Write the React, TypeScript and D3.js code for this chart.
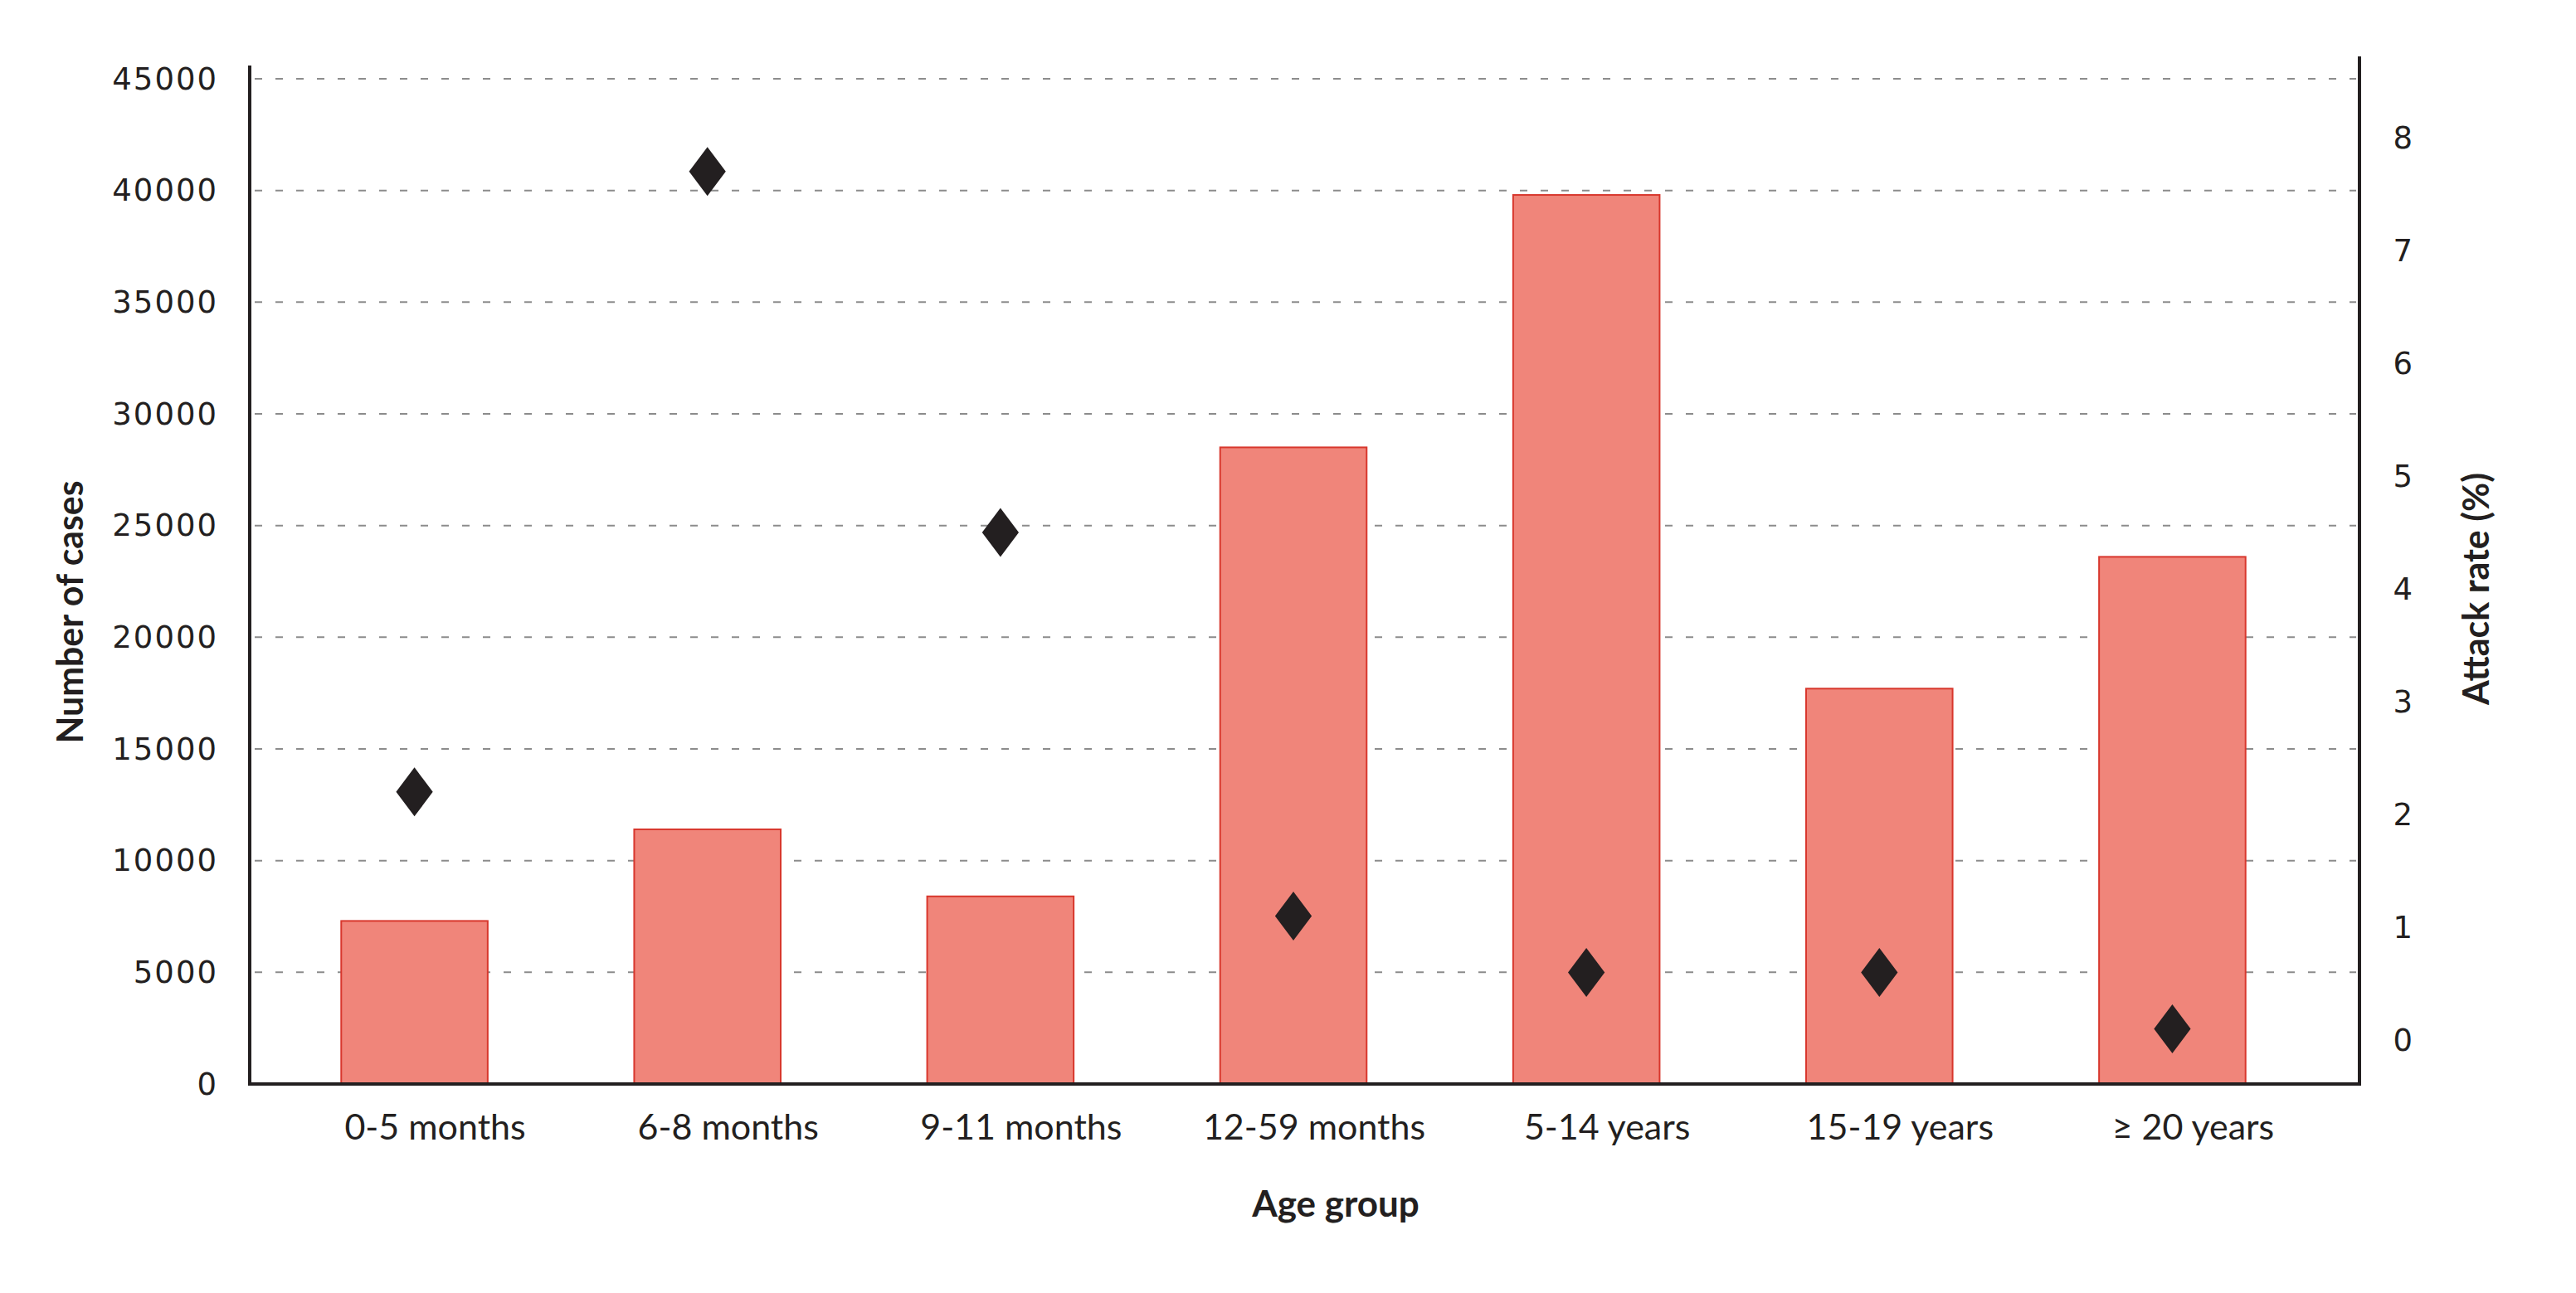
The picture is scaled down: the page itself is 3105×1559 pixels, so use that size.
import { useEffect, useRef } from 'react';
import * as d3 from 'd3';

const AGE_GROUPS = ['0-5 months', '6-8 months', '9-11 months', '12-59 months', '5-14 years', '15-19 years', '≥ 20 years'];
const CASES = [7300, 11400, 8400, 28500, 39800, 17700, 23600];
const ATTACK_RATE = [2.2, 7.7, 4.5, 1.1, 0.6, 0.6, 0.1];
const CASE_TICKS = [0, 5000, 10000, 15000, 20000, 25000, 30000, 35000, 40000, 45000];
const RATE_TICKS = [0, 1, 2, 3, 4, 5, 6, 7, 8];

const INK = '#231f20';

export default function App() {
  const svgRef = useRef<SVGSVGElement>(null);

  useEffect(() => {
    if (!svgRef.current) return;

    const width = 3105;
    const height = 1559;
    const left = 301;
    const right = 2844;
    const base = 1307;

    const svg = d3.select(svgRef.current);
    svg.selectAll('*').remove();
    svg.attr('width', width).attr('height', height).attr('viewBox', `0 0 ${width} ${height}`);

    svg.append('rect').attr('width', width).attr('height', height).attr('fill', '#fff');

    const x = d3.scaleBand<string>().domain(AGE_GROUPS).range([323, 2795]).paddingInner(0.5).paddingOuter(0.25);
    const y = d3.scaleLinear().domain([0, 45000]).range([base, 95]);
    const yRate = d3.scaleLinear().domain([0, 8]).range([1254, 166]);

    // gridlines
    CASE_TICKS.filter((t) => t > 0).forEach((t) => {
      svg.append('line')
        .attr('x1', left + 6).attr('x2', right - 4)
        .attr('y1', y(t)).attr('y2', y(t))
        .attr('stroke', '#8c8c8c')
        .attr('stroke-width', 2)
        .attr('stroke-dasharray', '9,16');
    });

    // bars
    AGE_GROUPS.forEach((g, i) => {
      svg.append('rect')
        .attr('x', x(g)!)
        .attr('y', y(CASES[i]))
        .attr('width', x.bandwidth())
        .attr('height', base - y(CASES[i]))
        .attr('fill', '#f0857a')
        .attr('stroke', '#d8372d')
        .attr('stroke-width', 2);
    });

    // attack rate diamonds
    const diamond = d3.symbol().type(d3.symbolDiamond2).size(2219);
    AGE_GROUPS.forEach((g, i) => {
      const cx = x(g)! + x.bandwidth() / 2;
      svg.append('path')
        .attr('d', diamond() as string)
        .attr('transform', `translate(${cx},${yRate(ATTACK_RATE[i])}) scale(0.75,1)`)
        .attr('fill', INK);
    });

    // axis lines
    svg.append('line').attr('x1', left).attr('x2', left).attr('y1', 79).attr('y2', base + 2)
      .attr('stroke', INK).attr('stroke-width', 4);
    svg.append('line').attr('x1', right).attr('x2', right).attr('y1', 68).attr('y2', base + 2)
      .attr('stroke', INK).attr('stroke-width', 4);
    svg.append('line').attr('x1', left - 2).attr('x2', right + 2).attr('y1', base).attr('y2', base)
      .attr('stroke', INK).attr('stroke-width', 4);

    // left tick labels
    CASE_TICKS.forEach((t) => {
      svg.append('text')
        .attr('x', 263).attr('y', y(t))
        .attr('text-anchor', 'end')
        .attr('dominant-baseline', 'central')
        .attr('font-family', 'DejaVu Sans')
        .attr('font-size', 37)
        .attr('letter-spacing', 2)
        .attr('fill', INK)
        .text(t);
    });

    // right tick labels
    RATE_TICKS.forEach((t) => {
      svg.append('text')
        .attr('x', 2908).attr('y', yRate(t))
        .attr('text-anchor', 'end')
        .attr('dominant-baseline', 'central')
        .attr('font-family', 'DejaVu Sans')
        .attr('font-size', 37)
        .attr('fill', INK)
        .text(t);
    });

    // category labels
    AGE_GROUPS.forEach((g) => {
      svg.append('text')
        .attr('x', x(g)! + x.bandwidth() / 2 + 25)
        .attr('y', 1374)
        .attr('text-anchor', 'middle')
        .attr('font-family', 'Lato')
        .attr('font-size', 43)
        .attr('fill', INK)
        .text(g);
    });

    // axis titles
    svg.append('text')
      .attr('x', 1610).attr('y', 1467)
      .attr('text-anchor', 'middle')
      .attr('font-family', 'Lato')
      .attr('font-weight', 700)
      .attr('font-size', 44)
      .attr('fill', INK)
      .text('Age group');

    svg.append('text')
      .attr('transform', 'translate(100,738) rotate(-90)')
      .attr('text-anchor', 'middle')
      .attr('font-family', 'Lato')
      .attr('font-weight', 700)
      .attr('font-size', 44)
      .attr('textLength', 317)
      .attr('lengthAdjust', 'spacingAndGlyphs')
      .attr('fill', INK)
      .text('Number of cases');

    svg.append('text')
      .attr('transform', 'translate(3000,710) rotate(-90)')
      .attr('text-anchor', 'middle')
      .attr('font-family', 'Lato')
      .attr('font-weight', 700)
      .attr('font-size', 44)
      .attr('textLength', 280)
      .attr('lengthAdjust', 'spacingAndGlyphs')
      .attr('fill', INK)
      .text('Attack rate (%)');
  }, []);

  return <svg ref={svgRef} style={{ position: 'absolute', left: 0, top: 0, display: 'block' }} />;
}
